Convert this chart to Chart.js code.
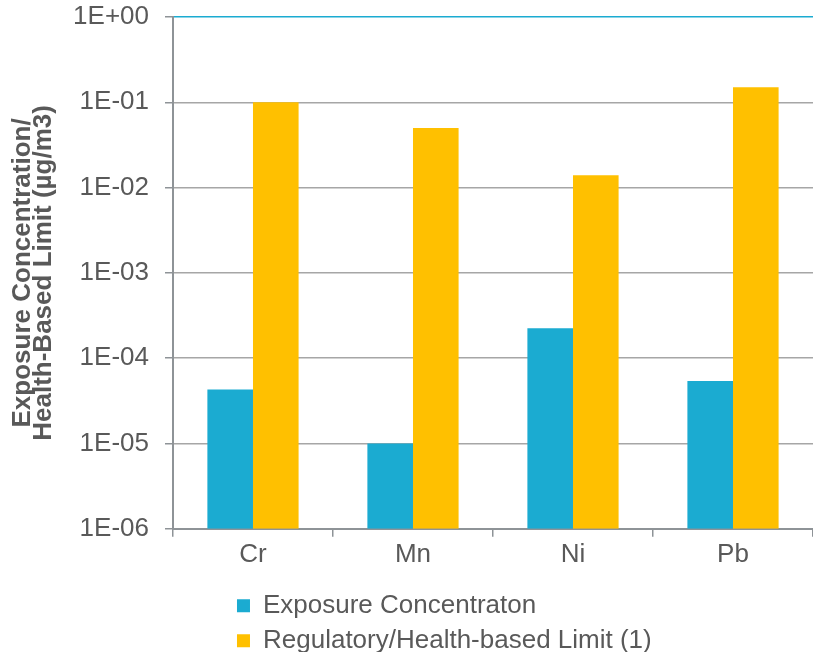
<!DOCTYPE html>
<html lang="en">
<head>
<meta charset="utf-8">
<title>Exposure Concentration vs Health-Based Limit</title>
<script src="https://cdn.jsdelivr.net/npm/chart.js@4/dist/chart.umd.min.js"></script>
<style>
  html, body { margin: 0; padding: 0; background: #FFFFFF; }
  #wrap { width: 813px; height: 656px; }
</style>
</head>
<body>
<div id="wrap"><canvas id="metalsChart" width="813" height="656"></canvas></div>
<script>
  // Datos (µg/m3, escala logarítmica)
  const categories = ['Cr', 'Mn', 'Ni', 'Pb'];
  const exposureValues = [4.3e-5, 1.0e-5, 2.25e-4, 5.4e-5];
  const limitValues = [0.1, 0.05, 0.014, 0.15];
  const seriesLabels = ['Exposure Concentraton', 'Regulatory/Health-based Limit (1)'];
  const yTickValues = [1e-6, 1e-5, 1e-4, 1e-3, 1e-2, 1e-1, 1];
  const yTickLabels = ['1E-06', '1E-05', '1E-04', '1E-03', '1E-02', '1E-01', '1E+00'];
  const yTitle = ['Exposure Concentration/', 'Health-Based Limit (µg/m3)'];

  (function () {
    'use strict';

    const COLORS = {
      blue: '#1BABD1',
      gold: '#FFC000',
      text: '#595959',
      grid: '#A6A6A6',
      axis: '#8E9397'
    };
    const FONT = '"Liberation Sans", Arial, sans-serif';

    // Coloca la leyenda (dos filas alineadas a la izquierda, como en el original)
    const legendPlacement = {
      id: 'legendPlacement',
      afterLayout(chart) {
        const legend = chart.legend;
        if (!legend) return;
        legend.left = chart.chartArea.left + 55;
        legend.top = chart.chartArea.bottom + 55;
      }
    };

    const ctx = document.getElementById('metalsChart');

    new Chart(ctx, {
      type: 'bar',
      data: {
        labels: categories,
        datasets: [{
          label: seriesLabels[0],
          data: exposureValues,
          backgroundColor: COLORS.blue,
          borderWidth: 0
        }, {
          label: seriesLabels[1],
          data: limitValues,
          backgroundColor: COLORS.gold,
          borderWidth: 0
        }]
      },
      options: {
        responsive: false,
        animation: false,
        devicePixelRatio: 1,
        categoryPercentage: 0.57,
        barPercentage: 1.0,
        layout: {
          padding: { top: 17, right: 0, bottom: 4, left: 0 }
        },
        plugins: {
          legend: {
            position: 'bottom',
            align: 'start',
            fullSize: false,
            labels: {
              boxWidth: 13,
              boxHeight: 13,
              padding: 9,
              color: COLORS.text,
              font: { family: FONT, size: 26 }
            }
          },
          tooltip: { enabled: false }
        },
        scales: {
          x: {
            offset: true,
            border: { display: true, color: COLORS.axis, width: 2 },
            grid: {
              display: true,
              offset: true,
              drawOnChartArea: false,
              drawTicks: true,
              tickLength: 8,
              color: COLORS.axis,
              lineWidth: 1.5
            },
            ticks: {
              color: COLORS.text,
              padding: 2,
              font: { family: FONT, size: 26 }
            }
          },
          y: {
            type: 'logarithmic',
            min: yTickValues[0],
            max: yTickValues[yTickValues.length - 1],
            afterBuildTicks(scale) {
              scale.ticks = yTickValues.map((v) => ({ value: v, major: true }));
            },
            afterFit(scale) {
              // el margen superior lo fija layout.padding
              scale.paddingTop = 0;
              scale.paddingBottom = 0;
            },
            border: { display: true, color: COLORS.axis, width: 2 },
            grid: {
              drawTicks: true,
              tickLength: 8,
              tickColor: COLORS.axis,
              lineWidth: 1.5,
              color: (c) => (c.tick && c.tick.value === 1 ? COLORS.blue : COLORS.grid)
            },
            ticks: {
              color: COLORS.text,
              padding: 16,
              font: { family: FONT, size: 26 },
              callback: (value, index) => yTickLabels[index]
            },
            title: {
              display: true,
              text: yTitle,
              color: COLORS.text,
              padding: { top: 13, bottom: 3 },
              font: { family: FONT, size: 26, weight: 'bold', lineHeight: 0.79 }
            }
          }
        }
      },
      plugins: [legendPlacement]
    });
  })();
</script>
</body>
</html>
